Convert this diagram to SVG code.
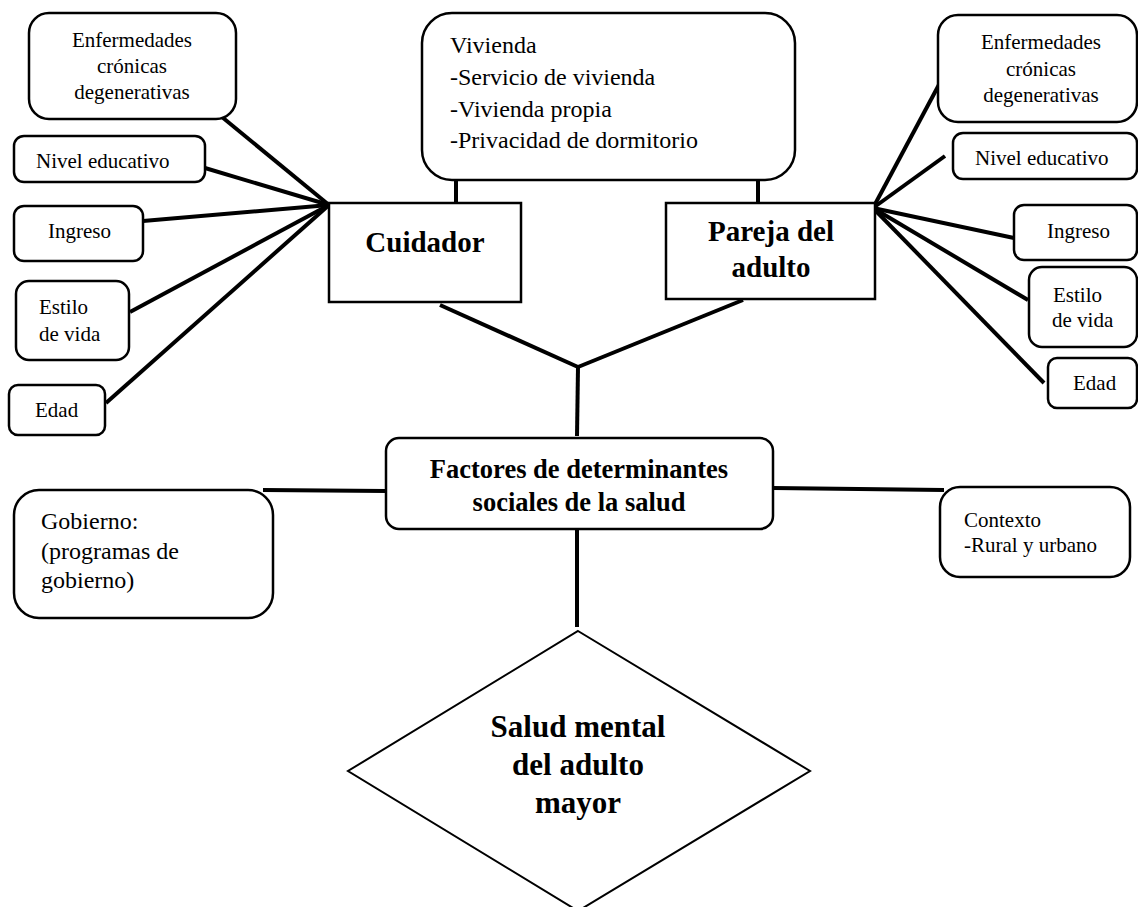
<svg xmlns="http://www.w3.org/2000/svg" width="1138" height="907" viewBox="0 0 1138 907">
<style>
.box{fill:#fff;stroke:#000;stroke-width:2.5}
.dia{fill:#fff;stroke:#000;stroke-width:2}
text{font-family:"Liberation Serif","Times New Roman",Tinos,"DejaVu Serif",serif;fill:#000;font-weight:normal}
.s{font-size:21px}
.m{font-size:24px}
.b{font-weight:bold}
.c{text-anchor:middle}
.ln{stroke:#000;stroke-width:4;fill:none;stroke-linecap:butt}
</style>
<rect width="1138" height="907" fill="#fff"/>
<g id="connectors">
<line class="ln" x1="211" y1="108" x2="329" y2="205"/>
<line class="ln" x1="205" y1="168" x2="329" y2="205"/>
<line class="ln" x1="143" y1="221" x2="329" y2="205"/>
<line class="ln" x1="130" y1="312" x2="329" y2="205"/>
<line class="ln" x1="106" y1="403" x2="329" y2="205"/>
<line class="ln" x1="942" y1="79" x2="873" y2="208"/>
<line class="ln" x1="945" y1="156" x2="873" y2="208"/>
<line class="ln" x1="1014" y1="238" x2="873" y2="208"/>
<line class="ln" x1="1028" y1="300" x2="873" y2="208"/>
<line class="ln" x1="1044" y1="383" x2="873" y2="208"/>
<line class="ln" x1="456" y1="180" x2="456" y2="203"/>
<line class="ln" x1="758" y1="180" x2="758" y2="204"/>
<line class="ln" x1="440" y1="305" x2="578" y2="367"/>
<line class="ln" x1="743" y1="300" x2="578" y2="367"/>
<line class="ln" x1="578" y1="367" x2="577" y2="436"/>
<line class="ln" x1="263" y1="490" x2="386" y2="491"/>
<line class="ln" x1="773" y1="488" x2="944" y2="490"/>
<line class="ln" x1="577" y1="529" x2="577" y2="627"/>
</g>
<g id="enf-left">
<rect class="box" x="29" y="13" width="207" height="106" rx="20"/>
<text class="s c" x="132" y="47">Enfermedades</text>
<text class="s c" x="132" y="73">crónicas</text>
<text class="s c" x="132" y="99">degenerativas</text>
</g>
<g id="nivel-left">
<rect class="box" x="14" y="136" width="191" height="46" rx="10"/>
<text class="s" x="36" y="168">Nivel educativo</text>
</g>
<g id="ingreso-left">
<rect class="box" x="14" y="206" width="129" height="55" rx="10"/>
<text class="s" x="48" y="238">Ingreso</text>
</g>
<g id="estilo-left">
<rect class="box" x="16" y="281" width="113" height="79" rx="13"/>
<text class="s" x="39" y="314">Estilo</text>
<text class="s" x="39" y="341">de vida</text>
</g>
<g id="edad-left">
<rect class="box" x="9" y="385" width="96" height="50" rx="9"/>
<text class="s" x="35" y="417">Edad</text>
</g>
<g id="vivienda">
<rect class="box" x="422" y="13" width="373" height="167" rx="30"/>
<text class="m" x="450" y="53">Vivienda</text>
<text class="m" x="450" y="85">-Servicio de vivienda</text>
<text class="m" x="450" y="117">-Vivienda propia</text>
<text class="m" x="450" y="148">-Privacidad de dormitorio</text>
</g>
<g id="cuidador">
<rect class="box" x="329" y="203" width="192" height="99"/>
<text class="b c" x="425" y="252" font-size="29">Cuidador</text>
</g>
<g id="pareja">
<rect class="box" x="666" y="203" width="209" height="96"/>
<text class="b c" x="771" y="241" font-size="29">Pareja del</text>
<text class="b c" x="771" y="277" font-size="29">adulto</text>
</g>
<g id="enf-right">
<rect class="box" x="938" y="15" width="199" height="107" rx="20"/>
<text class="s c" x="1041" y="49">Enfermedades</text>
<text class="s c" x="1041" y="76">crónicas</text>
<text class="s c" x="1041" y="102">degenerativas</text>
</g>
<g id="nivel-right">
<rect class="box" x="953" y="133" width="184" height="46" rx="10"/>
<text class="s" x="975" y="165">Nivel educativo</text>
</g>
<g id="ingreso-right">
<rect class="box" x="1014" y="205" width="123" height="55" rx="10"/>
<text class="s" x="1047" y="238">Ingreso</text>
</g>
<g id="estilo-right">
<rect class="box" x="1029" y="267" width="108" height="80" rx="13"/>
<text class="s" x="1053" y="302">Estilo</text>
<text class="s" x="1052" y="327">de vida</text>
</g>
<g id="edad-right">
<rect class="box" x="1048" y="358" width="89" height="50" rx="9"/>
<text class="s" x="1073" y="390">Edad</text>
</g>
<g id="factores">
<rect class="box" x="386" y="438" width="387" height="91" rx="13"/>
<text class="b c" x="579" y="478" font-size="26.5">Factores de determinantes</text>
<text class="b c" x="579" y="511" font-size="26.5">sociales de la salud</text>
</g>
<g id="gobierno">
<rect class="box" x="14" y="490" width="259" height="128" rx="25"/>
<text class="m" x="41" y="529">Gobierno:</text>
<text class="m" x="41" y="559">(programas de</text>
<text class="m" x="41" y="588">gobierno)</text>
</g>
<g id="contexto">
<rect class="box" x="940" y="487" width="190" height="90" rx="20"/>
<text class="s" x="964" y="527">Contexto</text>
<text class="s" x="964" y="552">-Rural y urbano</text>
</g>
<g id="salud-mental">
<polygon class="dia" points="578,631 810,771 578,911 348,771"/>
<text class="b c" x="578" y="737" font-size="31">Salud mental</text>
<text class="b c" x="578" y="775" font-size="31">del adulto</text>
<text class="b c" x="578" y="813" font-size="31">mayor</text>
</g>
</svg>
